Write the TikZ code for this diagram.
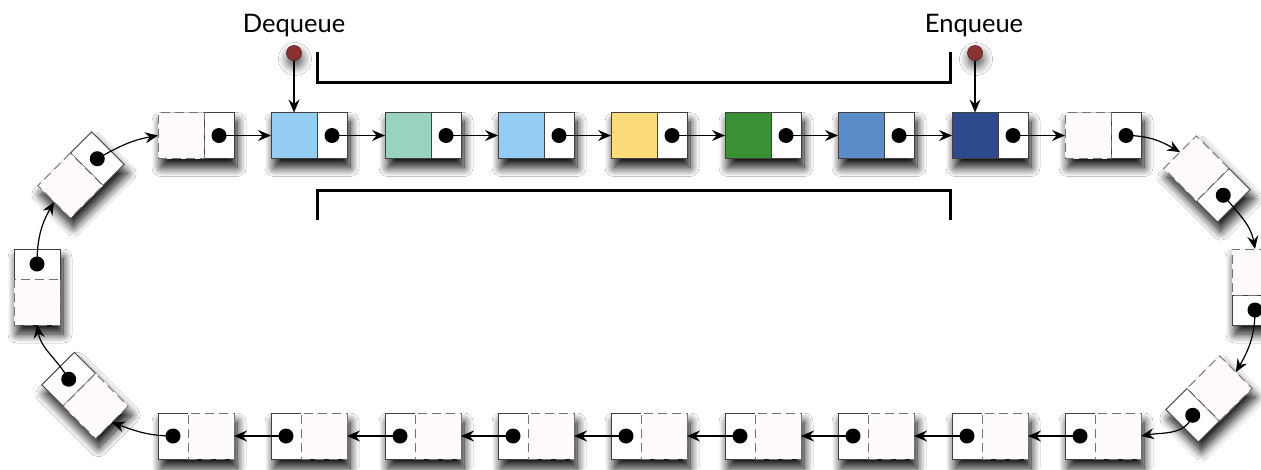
\documentclass[tikz,border=0pt]{standalone}
\usepackage{fontspec}
\newfontfamily\labfont{Lato}
\usetikzlibrary{arrows.meta,shadows.blur}
\definecolor{cLB}{HTML}{93CDF3}
\definecolor{cTeal}{HTML}{9AD2C2}
\definecolor{cYel}{HTML}{FDDB78}
\definecolor{cGreen}{HTML}{3A9135}
\definecolor{cBlue}{HTML}{5A8DCA}
\definecolor{cDark}{HTML}{2C4A8D}
\definecolor{cEmpty}{HTML}{FFFAFB}
\definecolor{cEdge}{HTML}{404040}
\definecolor{cPin}{HTML}{8B3131}
\tikzset{
  nodebg/.style={transform shape, rectangle, inner sep=0pt, outer sep=0pt,
    minimum width=76pt, minimum height=46pt, fill=white,
    blur shadow={shadow xshift=3pt, shadow yshift=-9pt, shadow blur radius=9pt,
      shadow opacity=95, shadow blur steps=14}},
  ptrsq/.style={transform shape, rectangle, inner sep=0pt, outer sep=0pt,
    minimum width=30pt, minimum height=46pt, fill=white, draw=cEdge, line width=1pt},
  full/.style={transform shape, rectangle, inner sep=0pt, outer sep=0pt,
    minimum width=46pt, minimum height=46pt, fill=#1, draw=cEdge, line width=1pt},
  emptysq/.style={transform shape, rectangle, inner sep=0pt, outer sep=0pt,
    minimum width=46pt, minimum height=46pt, fill=cEmpty, draw=gray!90!black,
    line width=1pt, dash pattern=on 9pt off 5pt},
  dotc/.style={circle, fill=black, inner sep=0pt, minimum size=15pt},
  arr/.style={-{Stealth[length=13pt,width=11pt,inset=4.5pt]}, line width=1.2pt},
  pin/.style={circle, fill=cPin, draw=cPin!60!black, line width=0.6pt, inner sep=0pt,
    minimum size=15pt,
    blur shadow={shadow xshift=1pt, shadow yshift=-6pt, shadow blur radius=9pt,
      shadow opacity=70, shadow blur steps=10}},
  bracket/.style={line width=3pt},
  lab/.style={font=\labfont\fontsize{25.5}{30}\selectfont, anchor=base, inner sep=0pt}
}
\newcommand{\qnode}[5]{%
  \begin{scope}[shift={(#2,#3)}, rotate=#4]
    \node[nodebg] (#1-bg) at (0,0) {};
    \node[ptrsq] (#1-p) at (23,0) {};
    \node[#5] (#1-d) at (-15,0) {};
    \node[dotc] (#1-dot) at (23,0) {};
  \end{scope}}
\begin{document}
\begin{tikzpicture}[x=1pt,y=1pt]
\clip (0,-469) rectangle (1261,0);
\fill[white] (0,-469) rectangle (1261,0);
% top row
\qnode{t1}{196}{-135.5}{0}{emptysq}
\qnode{t2}{309}{-135.5}{0}{full=cLB}
\qnode{t3}{423}{-135.5}{0}{full=cTeal}
\qnode{t4}{536}{-135.5}{0}{full=cLB}
\qnode{t5}{649}{-135.5}{0}{full=cYel}
\qnode{t6}{763}{-135.5}{0}{full=cGreen}
\qnode{t7}{876}{-135.5}{0}{full=cBlue}
\qnode{t8}{990}{-135.5}{0}{full=cDark}
\qnode{t9}{1103}{-135.5}{0}{emptysq}
% right side
\qnode{r1}{1207}{-179}{-45}{emptysq}
\qnode{r2}{1255}{-287}{-90}{emptysq}
\qnode{r3}{1209}{-399}{-135}{emptysq}
% bottom row
\qnode{b9}{1103}{-436}{180}{emptysq}
\qnode{b8}{990}{-436}{180}{emptysq}
\qnode{b7}{876}{-436}{180}{emptysq}
\qnode{b6}{763}{-436}{180}{emptysq}
\qnode{b5}{649}{-436}{180}{emptysq}
\qnode{b4}{536}{-436}{180}{emptysq}
\qnode{b3}{423}{-436}{180}{emptysq}
\qnode{b2}{309}{-436}{180}{emptysq}
\qnode{b1}{196}{-436}{180}{emptysq}
% left side
\qnode{l3}{85}{-395.5}{135}{emptysq}
\qnode{l2}{37}{-287}{90}{emptysq}
\qnode{l1}{81}{-175}{45}{emptysq}
% straight arrows
\foreach \a/\b in {t1/t2,t2/t3,t3/t4,t4/t5,t5/t6,t6/t7,t7/t8,t8/t9,
                   b9/b8,b8/b7,b7/b6,b6/b5,b5/b4,b4/b3,b3/b2,b2/b1}
  \draw[arr] (\a-dot.center) -- (\b-d.west);
% curved arrows
\draw[arr] (t9-dot.center) to[out=0,in=150] (r1-d.west);
\draw[arr] (r1-dot.center) to[out=-50,in=100] (r2-d.west);
\draw[arr] (r2-dot.center) to[out=-90,in=60] (r3-d.west);
\draw[arr] (r3-dot.center) to[out=-110,in=10] (b9-d.west);
\draw[arr] (b1-dot.center) to[out=180,in=-20] (l3-d.west);
\draw[arr] (l3-dot.center) to[out=120,in=-80] (l2-d.west);
\draw[arr] (l2-dot.center) to[out=90,in=240] (l1-d.west);
\draw[arr] (l1-dot.center) to[out=30,in=190] (t1-d.west);
% pins and labels
\node[pin] (pinD) at (294,-53) {};
\node[pin] (pinE) at (975,-53) {};
\draw[arr] (pinD) -- (t2-d.north);
\draw[arr] (pinE) -- (t8-d.north);
\node[lab] (labD) at (294,-32) {Dequeue};
\node[lab] (labE) at (974,-32) {Enqueue};
% brackets
\coordinate (bt1) at (317,-52);
\coordinate (bt2) at (950,-82);
\coordinate (bt3) at (950,-52);
\draw[bracket] (bt1) |- (bt2) -- (bt3);
\coordinate (bb1) at (317,-220);
\coordinate (bb2) at (950,-190);
\coordinate (bb3) at (950,-220);
\draw[bracket] (bb1) |- (bb2) -- (bb3);
\end{tikzpicture}
\end{document}
